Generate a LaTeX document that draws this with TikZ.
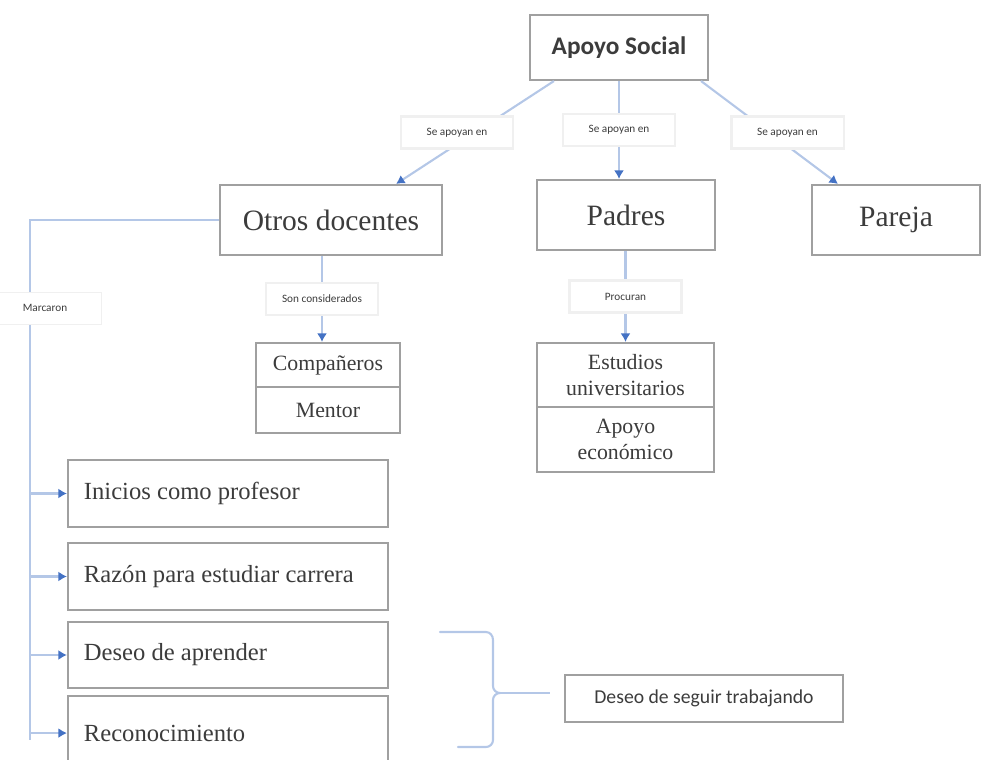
\documentclass[tikz,border=0pt]{standalone}
\usepackage{fontspec}
\setmainfont{Liberation Serif}
\setsansfont{Carlito}
\usepackage{tikz}
\usetikzlibrary{positioning,arrows.meta}

\definecolor{linkblue}{RGB}{180,199,231}
\definecolor{tipblue}{RGB}{68,114,196}
\definecolor{boxgray}{RGB}{160,160,160}
\definecolor{textgray}{RGB}{60,60,60}

\tikzset{
  box/.style={draw=boxgray, line width=1.5pt, fill=white, text=textgray, inner sep=2pt},
  bigtext/.style={font=\fontsize{21}{24}\selectfont},
  midtext/.style={font=\fontsize{15.5}{19}\selectfont, align=center},
  listbox/.style={box, minimum width=8cm, text width=7.2cm, inner xsep=0.4cm, align=flush left,
    font=\fontsize{17.5}{21}\selectfont},
  lab/.style={fill=white, draw=black!6, text=textgray, minimum width=2.8cm, minimum height=0.8cm,
    font=\sffamily\fontsize{8}{9}\selectfont},
  link/.style={draw=linkblue, line width=1.5pt, -{Latex[color=tipblue,length=6pt,width=7pt]}},
  plain/.style={draw=linkblue, line width=1.5pt},
}

\begin{document}
\begin{tikzpicture}[x=0.025cm, y=-0.025cm]
\useasboundingbox (0,0) rectangle (982,760);

% Nodes
% top level
\node[box, minimum width=4.45cm, minimum height=1.625cm, font=\sffamily\bfseries\fontsize{18}{21}\selectfont](apoyo) at (619,47.5) {Apoyo Social};
\node[box, bigtext, minimum width=5.55cm, minimum height=1.75cm](otros) at (331,220) {Otros docentes};
\node[box, bigtext, minimum width=4.45cm, minimum height=1.75cm](padres) at (626,215) {Padres};
\node[box, bigtext, minimum width=4.2cm, minimum height=1.75cm](pareja) at (896,220) {Pareja};

% second level
\node[box, midtext, minimum width=3.6cm, minimum height=1.1cm](companeros) at (328,365) {Compañeros};
\node[box, midtext, minimum width=3.6cm, minimum height=1.15cm, below = -1.5pt of companeros](mentor) {Mentor};
\node[box, midtext, minimum width=4.425cm, minimum height=1.6cm](estudios) at (625.5,375) {Estudios\\universitarios};
\node[box, midtext, minimum width=4.425cm, minimum height=1.625cm, below = -1.5pt of estudios](economico) {Apoyo\\económico};

% list on the left
\node[listbox, minimum height=1.675cm](inicios) at (228,493.5) {Inicios como profesor};
\node[listbox, minimum height=1.675cm](razon) at (228,576.5) {Razón para estudiar carrera};
\node[listbox, minimum height=1.65cm](deseo) at (228,655) {Deseo de aprender};
\node[listbox, minimum height=1.85cm, anchor=north](reconoc) at (228,695) {Reconocimiento};

\node[box, minimum width=6.95cm, minimum height=1.175cm, font=\sffamily\fontsize{14}{16}\selectfont](seguir) at (704,698.5) {Deseo de seguir trabajando};

% Edges
\draw[link] ([xshift=0.625cm]apoyo.south west) -- node[lab, xshift=-0.45cm]{Se apoyan en} ([xshift=-1.175cm]otros.north east);
\draw[link] (apoyo.south) -- node[lab]{Se apoyan en} (apoyo.south |- padres.north);
\draw[link] ([xshift=-0.2cm]apoyo.south east) -- node[lab, xshift=0.45cm]{Se apoyan en} ([xshift=-1.45cm]pareja.north);

\draw[link] ([xshift=-0.15cm]companeros.north |- otros.south) -- node[lab]{Son considerados} ([xshift=-0.15cm]companeros.north);
\draw[link] (padres.south -| estudios.north) -- node[lab]{Procuran} (estudios.north);

% left trunk
\coordinate (trunk) at (30,217);
\coordinate (trunkend) at (30,740);
\draw[plain] (otros.west) -- (otros.west -| trunk) -- (trunkend);
\node[lab](marcaron) at (45,308) {Marcaron};
\foreach \b in {inicios,razon,deseo,reconoc}
  \draw[link] (\b.west -| trunk) -- (\b.west);

% brace
\coordinate (tip) at (500,693);
\coordinate (tipend) at (550,693);
\draw[plain, line cap=round] (440,632) -- (486,632) to[out=0,in=90] (493,640) -- (493,686)
  to[out=-90,in=180] (tip) to[out=180,in=90] (493,700) -- (493,740) to[out=-90,in=0] (486,747) -- (458,747);
\draw[plain] (tip) -- (tipend);

\end{tikzpicture}
\end{document}
